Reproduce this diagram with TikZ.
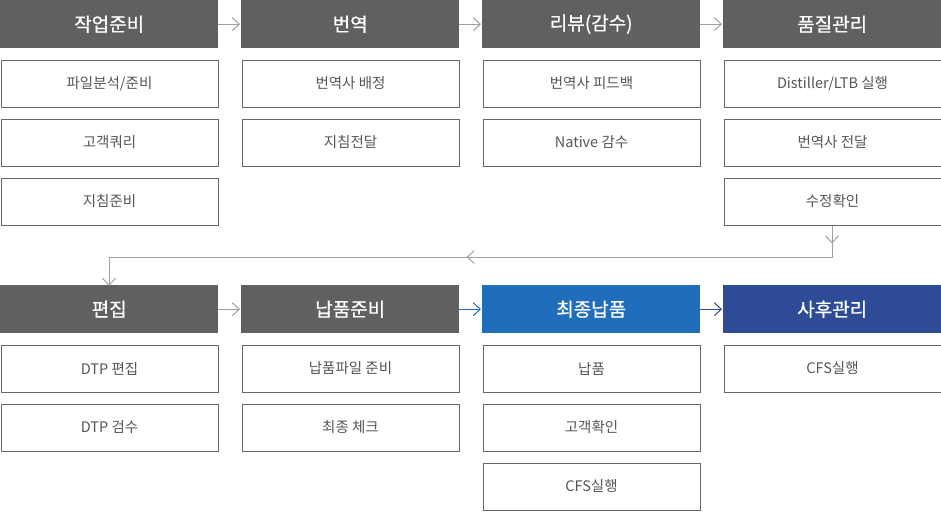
\documentclass[tikz,border=0pt]{standalone}
\usepackage{fontspec}
\setmainfont{Noto Sans CJK KR}
\newfontfamily\hdfont[FakeBold=0.7]{Noto Sans CJK KR}
\usetikzlibrary{arrows.meta,decorations.markings}
\definecolor{hdgray}{HTML}{606060}
\definecolor{hdblue}{HTML}{1F6DBB}
\definecolor{hdnavy}{HTML}{2E4C96}
\definecolor{bord}{HTML}{666666}
\definecolor{subtxt}{HTML}{555555}
\definecolor{arr}{HTML}{A0A0A0}
\tikzset{
  hd/.style={anchor=north west, inner sep=0pt, minimum width=218pt, minimum height=48pt,
    fill=hdgray, text=white, font=\hdfont\fontsize{19}{22}\selectfont},
  sub/.style={anchor=north west, inner sep=0pt, minimum width=217pt, minimum height=47pt,
    draw=bord, line width=1pt, text=subtxt, font=\fontsize{14.5}{17}\selectfont},
  chev/.style={line width=1pt, -{Straight Barb[length=7pt,width=13pt,line width=1pt]}},
  conn/.style={draw=arr, chev}
}
\begin{document}
\begin{tikzpicture}[x=1pt,y=-1pt]
\useasboundingbox (0,0) rectangle (941,511);
% row 1
\node[hd] (h1) at (0,0) {작업준비};
\node[hd] (h2) at (241,0) {번역};
\node[hd] (h3) at (482,0) {리뷰(감수)};
\node[hd] (h4) at (723,0) {품질관리};
\node[sub] (a1) at (0.5,59.5) {파일분석/준비};
\node[sub] (a2) at (0.5,118.5) {고객쿼리};
\node[sub] (a3) at (0.5,177.5) {지침준비};
\node[sub] (b1) at (241.5,59.5) {번역사 배정};
\node[sub] (b2) at (241.5,118.5) {지침전달};
\node[sub] (c1) at (482.5,59.5) {번역사 피드백};
\node[sub] (c2) at (482.5,118.5) {Native 감수};
\node[sub] (d1) at (723.5,59.5) {Distiller/LTB 실행};
\node[sub] (d2) at (723.5,118.5) {번역사 전달};
\node[sub] (d3) at (723.5,177.5) {수정확인};
% row 2
\node[hd] (g1) at (0,285) {편집};
\node[hd] (g2) at (241,285) {납품준비};
\node[hd, fill=hdblue] (g3) at (482,285) {최종납품};
\node[hd, fill=hdnavy] (g4) at (723,285) {사후관리};
\node[sub] (e1) at (0.5,344.5) {DTP 편집};
\node[sub] (e2) at (0.5,403.5) {DTP 검수};
\node[sub] (f1) at (241.5,344.5) {납품파일 준비};
\node[sub] (f2) at (241.5,403.5) {최종 체크};
\node[sub] (k1) at (482.5,344.5) {납품};
\node[sub] (k2) at (482.5,403.5) {고객확인};
\node[sub] (k3) at (482.5,462.5) {CFS실행};
\node[sub] (m1) at (723.5,344.5) {CFS실행};
% header arrows
\draw[conn] (h1.east) -- ([xshift=-1pt]h2.west);
\draw[conn] (h2.east) -- ([xshift=-1pt]h3.west);
\draw[conn] (h3.east) -- ([xshift=-1pt]h4.west);
\draw[conn] (g1.east) -- ([xshift=-1pt]g2.west);
\draw[chev, draw=hdblue] (g2.east) -- ([xshift=-1pt]g3.west);
\draw[chev, draw=hdnavy] (g3.east) -- ([xshift=-1pt]g4.west);
% return connector
\coordinate (r1) at (832,257);
\coordinate (r2) at (109,257);
\draw[conn, line join=miter, postaction={decorate}, decoration={markings,
   mark=at position 18pt with {\arrow{Straight Barb[length=7pt,width=13pt,line width=1pt]}},
   mark=at position 397pt with {\arrow{Straight Barb[length=7pt,width=13pt,line width=1pt]}}}]
   (d3.south -| r1) -- (r1) -- (r2) -- ([yshift=-1pt]g1.north -| r2);
\end{tikzpicture}
\end{document}
